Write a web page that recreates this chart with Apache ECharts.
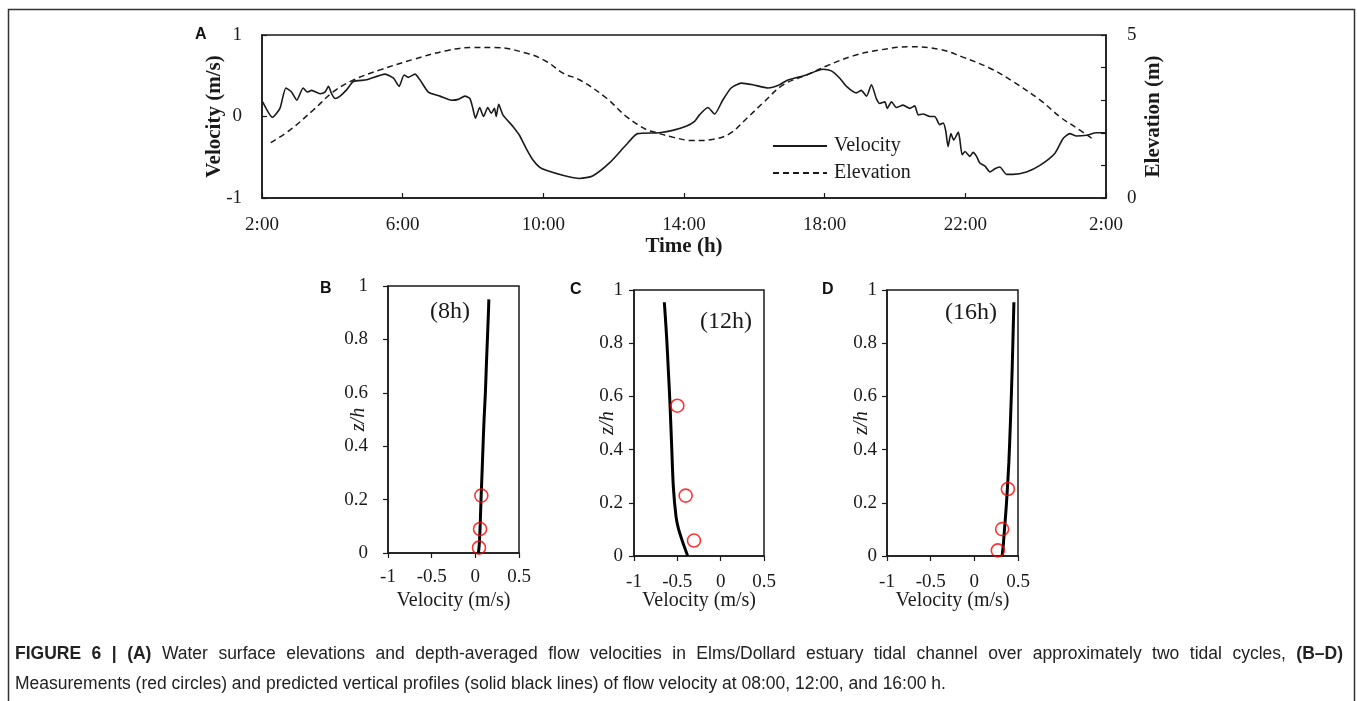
<!DOCTYPE html>
<html>
<head>
<meta charset="utf-8">
<script src="https://cdn.jsdelivr.net/npm/echarts@6/dist/echarts.min.js"></script>
<style>
html,body{margin:0;padding:0;background:#fff;}
#chart{width:1357px;height:701px;}
</style>
</head>
<body>
<div id="chart"></div>
<script>
// ---- Panel A data ----
const velTime = [2.02,2.3,2.51,2.68,2.84,2.99,3.17,3.29,3.41,3.65,3.79,3.89,3.98,4.08,4.22,4.41,4.6,4.98,5.5,5.74,5.9,6.04,6.16,6.35,6.49,6.73,7.06,7.39,7.58,7.77,7.91,7.99,8.07,8.19,8.3,8.42,8.52,8.61,8.66,8.73,8.85,9.14,9.32,9.51,9.7,9.89,10.08,10.55,11.03,11.4,11.88,12.35,12.68,13.3,13.68,14.06,14.3,14.44,14.68,14.87,15.1,15.34,15.63,15.96,16.39,16.72,16.91,17.48,17.95,18.19,18.43,18.62,18.9,19.04,19.19,19.33,19.47,19.57,19.71,19.78,19.9,20.04,20.23,20.42,20.56,20.66,20.8,20.99,21.13,21.27,21.37,21.44,21.51,21.59,21.67,21.75,21.8,21.84,21.91,21.99,22.13,22.22,22.32,22.41,22.56,22.7,22.84,22.98,23.17,23.36,23.74,24.12,24.55,24.78,24.97,25.16,25.45,25.73,26];
const velValue = [0.18,-0.01,0.10,0.35,0.30,0.20,0.35,0.30,0.32,0.28,0.30,0.37,0.28,0.22,0.25,0.33,0.43,0.45,0.52,0.47,0.37,0.51,0.48,0.52,0.45,0.30,0.25,0.20,0.21,0.25,0.22,0.11,-0.02,0.11,0.0,0.11,0.04,0.10,0.0,0.15,0.02,-0.125,-0.23,-0.39,-0.53,-0.62,-0.66,-0.72,-0.76,-0.73,-0.57,-0.35,-0.21,-0.2,-0.17,-0.12,-0.06,0.02,0.11,0.03,0.20,0.35,0.41,0.39,0.35,0.39,0.44,0.51,0.58,0.56,0.47,0.37,0.29,0.32,0.25,0.39,0.22,0.16,0.18,0.10,0.18,0.11,0.14,0.10,0.13,0.02,0.03,0.0,0.0,-0.10,-0.08,-0.17,-0.37,-0.21,-0.29,-0.23,-0.19,-0.27,-0.47,-0.43,-0.49,-0.44,-0.49,-0.57,-0.61,-0.68,-0.64,-0.62,-0.71,-0.71,-0.68,-0.6,-0.45,-0.27,-0.21,-0.24,-0.23,-0.2,-0.2];
const elevTime = [2.25,2.8,3.46,4.03,4.6,5.36,6.3,7.25,8.01,8.58,9.53,10.1,10.57,11.04,11.8,12.37,12.94,13.13,13.7,14.27,14.83,15.31,15.78,16.25,16.82,17.48,18.05,18.81,19.57,20.42,21.27,21.93,22.7,23.36,24.12,24.69,25.16,25.59];
const elevValue = [1.70,2.09,2.70,3.26,3.62,3.93,4.25,4.52,4.62,4.62,4.44,4.18,3.82,3.62,3.06,2.49,2.09,2.03,1.86,1.76,1.80,1.98,2.44,2.92,3.47,3.77,4.05,4.36,4.54,4.64,4.56,4.32,3.98,3.57,3.01,2.49,2.15,1.84];
const timeTicks = ['2:00','6:00','10:00','14:00','18:00','22:00','2:00'];

// ---- Panels B-D: predicted profiles (velocity, z/h) and measurements ----
const profB_z = [0,0.02,0.05,0.1,0.2,0.3,0.4,0.5,0.6,0.7,0.8,0.9,0.95];
const profB_v = [0.035,0.042,0.048,0.055,0.065,0.077,0.088,0.1,0.115,0.126,0.138,0.15,0.155];
const measB_v = [0.069,0.054,0.042];
const measB_z = [0.215,0.09,0.02];

const profC_z = [0,0.054,0.104,0.148,0.26,0.41,0.574,0.70,0.82,0.954];
const profC_v = [-0.38,-0.44,-0.488,-0.515,-0.546,-0.565,-0.585,-0.604,-0.623,-0.65];
const measC_v = [-0.50,-0.404,-0.308];
const measC_z = [0.565,0.227,0.058];

const profD_z = [0,0.035,0.098,0.198,0.35,0.51,0.70,0.954];
const profD_v = [0.318,0.33,0.345,0.368,0.395,0.414,0.433,0.453];
const measD_v = [0.384,0.318,0.269];
const measD_z = [0.252,0.101,0.021];

const captionLine1 = 'FIGURE 6 | (A) Water surface elevations and depth-averaged flow velocities in Elms/Dollard estuary tidal channel over approximately two tidal cycles, (B–D)';
const captionBold = ['FIGURE','6','|','(A)','(B–D)'];
const captionLine2 = 'Measurements (red circles) and predicted vertical profiles (solid black lines) of flow velocity at 08:00, 12:00, and 16:00 h.';

const zip = (a,b) => a.map((x,i)=>[x,b[i]]);

const SERIF = "'Liberation Serif','Times New Roman',serif";
const SANS = "'Liberation Sans',Arial,sans-serif";
const INK = '#1a1a1a';

function profileAxes(idx, ylabMargin, xlabMargin, yNameGap, xNameGap){
  return {
    x: {
      type:'value', gridIndex:idx, min:-1, max:0.5, interval:0.5,
      axisLine:{show:true, onZero:false, lineStyle:{color:INK, width:1.5}},
      axisTick:{show:true, inside:false, length:5, lineStyle:{color:INK, width:1.2}},
      axisLabel:{color:INK, fontFamily:SERIF, fontSize:19, margin:xlabMargin},
      splitLine:{show:false},
      name:'Velocity (m/s)', nameLocation:'middle', nameGap:xNameGap, nameMoveOverlap:false,
      nameTextStyle:{color:INK, fontFamily:SERIF, fontSize:20}
    },
    y: {
      type:'value', gridIndex:idx, min:0, max:1, interval:0.2,
      axisLine:{show:true, onZero:false, lineStyle:{color:INK, width:1.5}},
      axisTick:{show:true, inside:false, length:5, lineStyle:{color:INK, width:1.2}},
      axisLabel:{color:INK, fontFamily:SERIF, fontSize:19, margin:ylabMargin,
        formatter: v => (Math.round(v*10)/10).toString()},
      splitLine:{show:false},
      name:'z/h', nameLocation:'middle', nameGap:yNameGap, nameRotate:90, nameMoveOverlap:false,
      nameTextStyle:{color:INK, fontFamily:SERIF, fontSize:20, fontStyle:'italic'}
    }
  };
}
const pB = profileAxes(1, 20, 15, 19, 38), pC = profileAxes(2, 11, 17, 16, 35), pD = profileAxes(3, 10, 17, 15, 35);

const gridStyle = {show:true, borderColor:INK, borderWidth:1.5, backgroundColor:'transparent'};

// caption: first line justified across the caption width, second line left-aligned
const capFontR = "17.5px " + SANS, capFontB = "bold 17.5px " + SANS;
const capLeft = 15, capRight = 1343;
const mctx = document.createElement('canvas').getContext('2d');
const words1 = captionLine1.split(' ');
const widths1 = words1.map(w => { mctx.font = captionBold.includes(w) ? capFontB : capFontR; return mctx.measureText(w).width; });
const totalW = widths1.reduce((a,b)=>a+b,0);
const gap1 = Math.max(2, (capRight - capLeft - totalW) / (words1.length - 1));
const captionGraphics = [];
let cx = capLeft;
words1.forEach((w,i) => {
  captionGraphics.push({type:'text', x:cx, y:654, style:{text:w, font: captionBold.includes(w) ? capFontB : capFontR, fill:'#222', textVerticalAlign:'middle'}, silent:true});
  cx += widths1[i] + gap1;
});
captionGraphics.push({type:'text', x:capLeft, y:684, style:{text:captionLine2, font:capFontR, fill:'#222', textVerticalAlign:'middle'}, silent:true});

const option = {
  backgroundColor:'#fff',
  animation:false,
  grid:[
    Object.assign({left:262, top:35, width:844, height:163}, gridStyle),
    Object.assign({left:388, top:286, width:131, height:267}, gridStyle),
    Object.assign({left:634, top:290, width:130, height:266}, gridStyle),
    Object.assign({left:887, top:290, width:131, height:266}, gridStyle)
  ],
  legend:{
    data:['Velocity','Elevation'],
    orient:'vertical', left:767, top:131, itemWidth:54, itemHeight:14, itemGap:7,
    itemStyle:{color:'rgba(0,0,0,0)', borderWidth:0, opacity:0},
    textStyle:{color:INK, fontFamily:SERIF, fontSize:20, padding:[0,0,0,2]},
    selectedMode:false
  },
  xAxis:[
    {
      type:'value', gridIndex:0, min:2, max:26, interval:4,
      axisLine:{show:true, onZero:false, lineStyle:{color:INK, width:1.5}},
      axisTick:{show:true, inside:true, length:5, lineStyle:{color:INK, width:1.2}},
      axisLabel:{color:INK, fontFamily:SERIF, fontSize:19, margin:18,
        formatter: v => timeTicks[Math.round((v-2)/4)]},
      splitLine:{show:false},
      name:'Time (h)', nameLocation:'middle', nameGap:38, nameMoveOverlap:false,
      nameTextStyle:{color:INK, fontFamily:SERIF, fontSize:21, fontWeight:'bold'}
    },
    pB.x, pC.x, pD.x
  ],
  yAxis:[
    {
      type:'value', gridIndex:0, min:-1, max:1, interval:1,
      axisLine:{show:true, onZero:false, lineStyle:{color:INK, width:1.5}},
      axisTick:{show:true, inside:true, length:5, lineStyle:{color:INK, width:1.2}},
      axisLabel:{color:INK, fontFamily:SERIF, fontSize:19, margin:20},
      splitLine:{show:false},
      name:'Velocity (m/s)', nameLocation:'middle', nameGap:37, nameRotate:90, nameMoveOverlap:false,
      nameTextStyle:{color:INK, fontFamily:SERIF, fontSize:21, fontWeight:'bold'}
    },
    {
      type:'value', gridIndex:0, min:0, max:5, interval:1, position:'right',
      axisLine:{show:true, onZero:false, lineStyle:{color:INK, width:1.5}},
      axisTick:{show:true, inside:true, length:5, lineStyle:{color:INK, width:1.2}},
      axisLabel:{color:INK, fontFamily:SERIF, fontSize:19, margin:21,
        formatter: v => (v===0||v===5) ? String(v) : ''},
      splitLine:{show:false},
      name:'Elevation (m)', nameLocation:'middle', nameGap:37, nameRotate:90, nameMoveOverlap:false,
      nameTextStyle:{color:INK, fontFamily:SERIF, fontSize:21, fontWeight:'bold'}
    },
    Object.assign({}, pB.y, {gridIndex:1}),
    Object.assign({}, pC.y, {gridIndex:2}),
    Object.assign({}, pD.y, {gridIndex:3})
  ],
  series:[
    {name:'Velocity', type:'line', xAxisIndex:0, yAxisIndex:0, data:zip(velTime, velValue),
      symbol:'none', smooth:0.2, lineStyle:{color:INK, width:1.6, type:'solid'}, itemStyle:{color:INK}},
    {name:'Elevation', type:'line', xAxisIndex:0, yAxisIndex:1, data:zip(elevTime, elevValue),
      symbol:'none', smooth:0.4, lineStyle:{color:INK, width:1.5, type:[6,4]}, itemStyle:{color:INK}},
    {type:'line', xAxisIndex:1, yAxisIndex:2, data:zip(profB_v, profB_z), symbol:'none', smooth:0.3,
      lineStyle:{color:'#000', width:3}},
    {type:'line', xAxisIndex:2, yAxisIndex:3, data:zip(profC_v, profC_z), symbol:'none', smooth:0.3,
      lineStyle:{color:'#000', width:3}},
    {type:'line', xAxisIndex:3, yAxisIndex:4, data:zip(profD_v, profD_z), symbol:'none', smooth:0.3,
      lineStyle:{color:'#000', width:3}},
    {type:'scatter', xAxisIndex:1, yAxisIndex:2, data:zip(measB_v, measB_z), symbol:'circle', symbolSize:13,
      itemStyle:{color:'rgba(255,255,255,0)', borderColor:'#ff0000', borderWidth:1.6}, z:5},
    {type:'scatter', xAxisIndex:2, yAxisIndex:3, data:zip(measC_v, measC_z), symbol:'circle', symbolSize:13,
      itemStyle:{color:'rgba(255,255,255,0)', borderColor:'#ff0000', borderWidth:1.6}, z:5},
    {type:'scatter', xAxisIndex:3, yAxisIndex:4, data:zip(measD_v, measD_z), symbol:'circle', symbolSize:13,
      itemStyle:{color:'rgba(255,255,255,0)', borderColor:'#ff0000', borderWidth:1.6}, z:5}
  ],
  graphic:[
    {type:'rect', shape:{x:8.5, y:9.5, width:1346, height:700}, style:{fill:'none', stroke:'#333', lineWidth:1.5}, silent:true},
    {type:'text', left:195, top:27, style:{text:'A', font:"bold 16px "+SANS, fill:'#111'}},
    {type:'text', left:320, top:281, style:{text:'B', font:"bold 16px "+SANS, fill:'#111'}},
    {type:'text', left:570, top:282, style:{text:'C', font:"bold 16px "+SANS, fill:'#111'}},
    {type:'text', left:822, top:282, style:{text:'D', font:"bold 16px "+SANS, fill:'#111'}},
    {type:'text', left:430, top:300, style:{text:'(8h)', font:"24px "+SERIF, fill:INK}},
    {type:'text', left:700, top:310, style:{text:'(12h)', font:"24px "+SERIF, fill:INK}},
    {type:'text', left:945, top:301, style:{text:'(16h)', font:"24px "+SERIF, fill:INK}}
  ].concat(captionGraphics)
};

const chart = echarts.init(document.getElementById('chart'), null, {renderer:'canvas'});
chart.setOption(option);
</script>
</body>
</html>
